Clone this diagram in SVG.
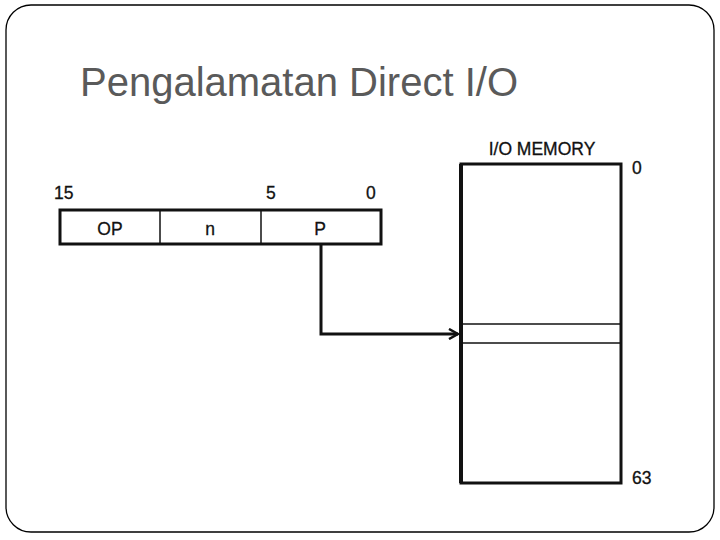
<svg xmlns="http://www.w3.org/2000/svg" width="720" height="540" viewBox="0 0 720 540">
<style>
.t{font-family:"Liberation Sans",Arial,sans-serif;fill:#111;font-size:17.5px;stroke:#111;stroke-width:0.3}
.thick{fill:none;stroke:#111;stroke-width:3}
.thin{fill:none;stroke:#111;stroke-width:1.5}
</style>
<defs>
<marker id="arr" markerWidth="12" markerHeight="12" refX="10" refY="6" orient="auto" markerUnits="userSpaceOnUse">
<path d="M1,1 L10,6 L1,11" fill="none" stroke="#111" stroke-width="2.5"/>
</marker>
</defs>
<rect x="0" y="0" width="720" height="540" fill="#fff"/>
<rect x="6" y="5" width="708" height="527" rx="25" ry="25" fill="none" stroke="#000" stroke-width="1.3"/>
<text x="80" y="96" font-family="'Liberation Sans',Arial,sans-serif" font-size="40" fill="#5a5a5a">Pengalamatan Direct I/O</text>
<g id="register">
<rect x="60" y="210" width="321" height="34" class="thick"/>
<line x1="160" y1="210" x2="160" y2="244" class="thin"/>
<line x1="261" y1="210" x2="261" y2="244" class="thin" stroke="#444"/>
<text class="t" x="54" y="199">15</text>
<text class="t" x="266" y="199">5</text>
<text class="t" x="366" y="199">0</text>
<text class="t" x="110" y="235" text-anchor="middle">OP</text>
<text class="t" x="210" y="235" text-anchor="middle">n</text>
<text class="t" x="320" y="235" text-anchor="middle">P</text>
</g>
<g id="memory">
<text class="t" x="542" y="155" text-anchor="middle">I/O MEMORY</text>
<rect x="461" y="164" width="160" height="319" class="thick"/>
<line x1="461" y1="164" x2="461" y2="483" stroke="#111" stroke-width="4"/>
<line x1="461" y1="324" x2="621" y2="324" class="thin"/>
<line x1="461" y1="343" x2="621" y2="343" class="thin"/>
<text class="t" x="632" y="174">0</text>
<text class="t" x="632" y="484">63</text>
</g>
<g id="connectors">
<path d="M321,244 V334 H458" fill="none" stroke="#111" stroke-width="3" marker-end="url(#arr)"/>
</g>
</svg>
